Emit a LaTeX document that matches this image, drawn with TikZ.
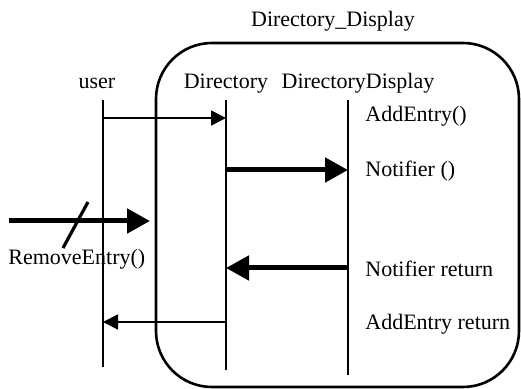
\documentclass[tikz,border=0pt]{standalone}
\usepackage{fontspec}
\setmainfont{Liberation Serif}
\usetikzlibrary{arrows.meta}

\begin{document}
\begin{tikzpicture}[x=0.5pt,y=-0.5pt,
font=\fontsize{11}{13}\selectfont,
lifeline/.style={line width=1pt},
msg/.style={line width=0.9pt,-{Triangle[length=7.5pt,width=7.5pt]}},
bigmsg/.style={line width=2.5pt,-{Triangle[length=11.5pt,width=12pt]}},
head/.style={anchor=base,inner sep=0pt},
lbl/.style={anchor=base west,inner sep=0pt}]
\useasboundingbox (0,0) rectangle (521,389);
\node[head] (title) at (333,27) {Directory\_Display};
\draw[line width=1.3pt,rounded corners=28pt] (156,43) rectangle (519,387);
\node[head] (user) at (97,89) {user};
\node[head] (dir) at (226,89) {Directory};
\node[head] (disp) at (358,89) {DirectoryDisplay};
\coordinate (user top) at (103,100);
\coordinate (user bot) at (103,367);
\coordinate (dir top) at (226,100);
\coordinate (dir bot) at (226,370);
\coordinate (disp top) at (348,100);
\coordinate (disp bot) at (348,375);
\draw[lifeline] (user top) -- (user bot);
\draw[lifeline] (dir top) -- (dir bot);
\draw[lifeline] (disp top) -- (disp bot);
\coordinate (u1) at (103,118);
\coordinate (d1) at (226,118);
\coordinate (d2) at (226,170);
\coordinate (p2) at (348,170);
\coordinate (p4) at (348,268);
\coordinate (d4) at (226,268);
\coordinate (d5) at (226,322);
\coordinate (u5) at (103,322);
\coordinate (ext) at (9,221);
\coordinate (ext end) at (150,221);
\coordinate (cut a) at (63,248);
\coordinate (cut b) at (88,202);
\draw[msg] (u1) -- (d1);
\draw[bigmsg] (d2) -- (p2);
\draw[bigmsg] (p4) -- (d4);
\draw[msg] (d5) -- (u5);
\draw[bigmsg] (ext) -- (ext end);
\draw[line width=1.6pt] (cut a) -- (cut b);
\node[lbl] (add) at (365,122) {AddEntry()};
\node[lbl] (notify) at (365,177) {Notifier ()};
\node[lbl] (notifyret) at (365,277) {Notifier return};
\node[lbl] (addret) at (365,330) {AddEntry return};
\node[lbl] (remove) at (8,265) {RemoveEntry()};
\end{tikzpicture}
\end{document}
